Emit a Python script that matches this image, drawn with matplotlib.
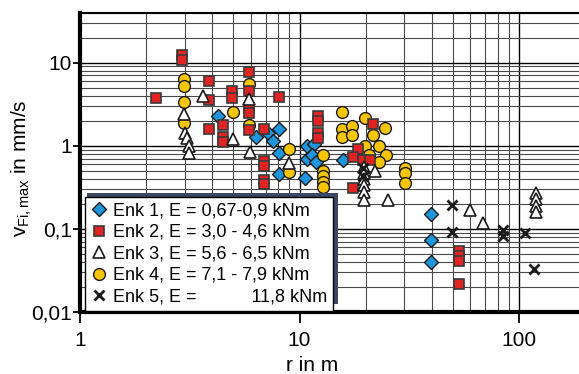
import matplotlib
matplotlib.use("Agg")
import matplotlib.pyplot as plt
from matplotlib.patches import Rectangle
from matplotlib.ticker import FixedLocator, FixedFormatter, LogLocator, NullFormatter

plt.rcParams["font.family"] = ["Liberation Sans", "DejaVu Sans"]
plt.rcParams["mathtext.fontset"] = "custom"
plt.rcParams["mathtext.rm"] = "Liberation Sans"
plt.rcParams["mathtext.it"] = "Liberation Sans:italic"

# --- data (r in m, v_Fi,max in mm/s) ---
enk1_r = [4.27, 6.34, 7.21, 7.6, 8.09, 8.09, 8.09, 10.8, 11.6, 10.8, 11.4,
          11.9, 10.6, 15.8, 39.7, 39.7, 39.7]
enk1_v = [2.25, 1.29, 1.41, 1.13, 1.59, 0.82, 0.46, 0.99, 1.04, 0.69, 0.78,
          0.63, 0.41, 0.67, 0.149, 0.073, 0.040]

enk2_r = [2.22, 2.91, 2.91, 3.88, 3.88, 3.88, 4.5, 4.5, 4.5, 4.91, 4.91,
          5.91, 5.91, 5.91, 5.91, 5.91, 6.89, 6.89, 6.89, 6.89, 6.89, 8.09,
          12.1, 12.1, 12.1, 12.1, 21.6, 18.5, 17.6, 19.5, 20.9, 17.6,
          53.5, 53.5, 53.5, 53.5]
enk2_v = [3.74, 12.4, 10.8, 5.92, 3.51, 1.60, 1.79, 1.29, 1.12, 4.49, 3.74,
          7.8, 4.49, 2.84, 2.47, 1.53, 1.59, 0.65, 0.565, 0.39, 0.345, 3.85,
          2.25, 1.96, 1.42, 1.25, 1.84, 0.91, 0.74, 0.68, 0.67, 0.31,
          0.054, 0.047, 0.041, 0.022]

enk3_r = [2.98, 3.01, 3.08, 3.15, 3.15, 3.65, 4.96, 5.91, 5.95, 8.98,
          19.6, 19.6, 19.6, 19.6, 19.6, 19.6, 22.1, 25.3, 59.8, 68.8,
          120, 120, 120, 120]
enk3_v = [2.42, 1.42, 1.23, 1.0, 0.82, 3.93, 1.21, 3.64, 0.83, 0.62,
          0.56, 0.47, 0.40, 0.34, 0.28, 0.225, 0.49, 0.225, 0.167, 0.118,
          0.27, 0.23, 0.19, 0.16]

enk4_r = [2.98, 2.98, 2.98, 2.98, 4.96, 5.91, 5.91, 8.98, 8.98, 12.8, 12.8,
          12.8, 12.8, 12.8, 15.6, 15.6, 15.6, 17.3, 17.3, 19.9, 19.9, 21.7,
          24.6, 23.1, 20.8, 24.8, 23.1, 30.2, 30.2, 30.2]
enk4_v = [6.3, 5.25, 3.31, 1.9, 2.51, 5.55, 1.76, 0.91, 0.48, 0.78, 0.49,
          0.43, 0.37, 0.32, 2.51, 1.59, 1.27, 1.71, 1.36, 2.15, 0.98, 1.36,
          1.62, 0.98, 0.78, 0.78, 0.64, 0.54, 0.47, 0.36]

enk5_r = [19.4, 19.4, 49.5, 49.5, 84.8, 84.8, 107, 117]
enk5_v = [0.54, 0.43, 0.193, 0.092, 0.098, 0.083, 0.090, 0.033]

labels = ["Enk 1, E = 0,67-0,9 kNm",
          "Enk 2, E = 3,0 - 4,6 kNm",
          "Enk 3, E = 5,6 - 6,5 kNm",
          "Enk 4, E = 7,1 - 7,9 kNm",
          "Enk 5, E =           11,8 kNm"]

y_ticks = [0.01, 0.1, 1, 10]
y_ticklabels = ["0,01", "0,1", "1", "10"]
x_ticks = [1, 10, 100]
x_ticklabels = ["1", "10", "100"]

W, H = 579, 374
fig = plt.figure(figsize=(W / 100, H / 100), dpi=100)
ax = fig.add_axes([80 / W, 1 - 312 / H, 499 / W, (312 - 12.5) / H])
ax.set_xscale("log")
ax.set_yscale("log")
ax.set_xlim(1, 187.6)
ax.set_ylim(0.01, 40)

# grid like the printed chart paper
ax.xaxis.set_minor_locator(LogLocator(base=10, subs=range(2, 10)))
ax.yaxis.set_minor_locator(LogLocator(base=10, subs=range(2, 10)))
ax.xaxis.set_minor_formatter(NullFormatter())
ax.yaxis.set_minor_formatter(NullFormatter())
ax.grid(True, which="minor", color="#4a4a4a", lw=0.8)
ax.grid(True, which="major", color="black", lw=1.0)
ax.set_axisbelow(True)

ax.xaxis.set_major_locator(FixedLocator(x_ticks))
ax.xaxis.set_major_formatter(FixedFormatter(x_ticklabels))
ax.yaxis.set_major_locator(FixedLocator(y_ticks))
ax.yaxis.set_major_formatter(FixedFormatter(y_ticklabels))
ax.tick_params(which="minor", length=0)
ax.tick_params(axis="y", which="major", direction="out", length=5, width=1.3,
               pad=1, labelsize=15)
ax.tick_params(axis="x", which="major", direction="out", length=8, width=1.3,
               pad=6, labelsize=15)

ax.spines["right"].set_visible(False)
ax.spines["left"].set_linewidth(3)
ax.spines["bottom"].set_linewidth(3)
ax.spines["top"].set_linewidth(1.5)

h1, = ax.plot(enk1_r, enk1_v, ls="none", marker="D", ms=7.5, mfc="#1f95dc",
              mec="#1a1a1a", mew=1.0, zorder=3)
h2, = ax.plot(enk2_r, enk2_v, ls="none", marker="s", ms=7, mfc="#e02424",
              mec="#3a3a3a", mew=1.2, zorder=4)
h4, = ax.plot(enk4_r, enk4_v, ls="none", marker="o", ms=8.5, mfc="#f7c600",
              mec="#1a1a1a", mew=1.0, zorder=3)
h3, = ax.plot(enk3_r, enk3_v, ls="none", marker="^", ms=8.5, mfc="white",
              mec="#1a1a1a", mew=1.2, zorder=5)
h5, = ax.plot(enk5_r, enk5_v, ls="none", marker="x", ms=6.5, mec="#1a1a1a",
              mew=2.0, zorder=5)

# legend with a dark offset shadow up and to the right
shadow = Rectangle((87 / W, 1 - 304 / H), (338 - 87) / W, (304 - 193) / H,
                   transform=fig.transFigure, facecolor="#3b4863",
                   edgecolor="none", zorder=4)
fig.patches.append(shadow)
leg = fig.legend([h1, h2, h3, h4, h5], labels, loc="upper left",
                 bbox_to_anchor=(85 / W, 1 - 197 / H), borderaxespad=0,
                 frameon=True, fancybox=False, framealpha=1,
                 edgecolor="black", fontsize=13, handlelength=0.9,
                 handletextpad=0.35, labelspacing=0.25, borderpad=0.3)
leg.set_zorder(5)
leg.get_frame().set_linewidth(1.0)

fig.text(22 / W, 1 - 168 / H, r"v$_{\mathrm{Fi,max}}$ in mm/s", rotation=90,
         ha="center", va="center", fontsize=15)
fig.text(312 / W, 1 - 371 / H, "r in m", ha="center", va="baseline",
         fontsize=15)

fig.savefig("out.png", dpi=100)
